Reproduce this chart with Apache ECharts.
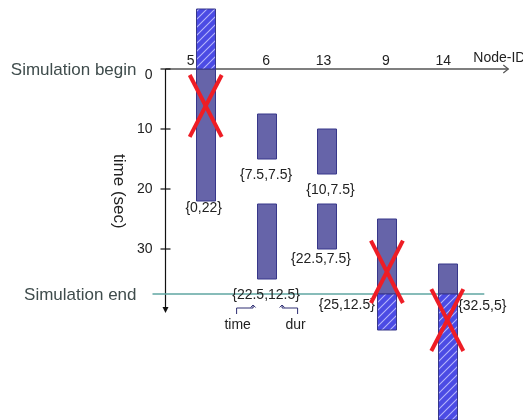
<!DOCTYPE html>
<html><head><meta charset="utf-8">
<script src="https://cdn.jsdelivr.net/npm/echarts@6/dist/echarts.min.js"></script>
<style>html,body{margin:0;padding:0;background:#fff}#c{width:523px;height:420px}</style>
</head><body><div id="c"></div>
<script>
// ---- data ----
const nodeIds = ['5', '6', '13', '9', '14'];
// tasks: node index, start time (sec), duration (sec)
const taskNode = [0, 1, 1, 2, 2, 3, 4];
const taskStart = [0, 7.5, 22.5, 10, 22.5, 25, 32.5];
const taskDur = [22, 7.5, 12.5, 7.5, 7.5, 12.5, 5];
// parts lying outside the simulated window (hatched)
const overNode = [0, 3, 4];
const overFrom = [-10, 37.5, 37.5];
const overTo = [0, 43.5, 58.5];
// crossed-out nodes (red X): node index, time span of the cross
const crossNode = [0, 3, 4];
const crossFrom = [1, 28.6, 36.7];
const crossTo = [11.3, 39, 47];
const simBegin = 0;
const simEnd = 37.5;
const timeTicks = [0, 10, 20, 30];
const annotatedTask = 2;

// ---- layout / style (not data) ----
const FONT = '"Liberation Sans", Arial, Helvetica, sans-serif';
const BAR_W = 19;
const labelOffsets = [[-2, 7], [0, 16], [0, 16], [4, 16], [-5.5, 10.5], [-40, 11.5], [35, 12.5]];
const nodeLabelDx = [-15, 0, -3, -1, -4];
const SOLID_FILL = '#6664a9', BAR_STROKE = '#37378a';

function makeHatch() {
  const c = document.createElement('canvas');
  c.width = 8; c.height = 8;
  const g = c.getContext('2d');
  g.fillStyle = '#4b4be4'; g.fillRect(0, 0, 8, 8);
  g.strokeStyle = 'rgba(200,200,255,0.85)'; g.lineWidth = 1.1;
  g.beginPath();
  g.moveTo(0, 8); g.lineTo(8, 0);
  g.moveTo(-2, 2); g.lineTo(2, -2);
  g.moveTo(6, 10); g.lineTo(10, 6);
  g.stroke();
  return c;
}
const hatch = { image: makeHatch(), repeat: 'repeat' };

const chart = echarts.init(document.getElementById('c'), null, { renderer: 'canvas' });

function txt(text, x, y, size, color, align, vAlign, rotation) {
  const el = { type: 'text', x: x, y: y, style: { text: text, font: size + 'px ' + FONT, fill: color, align: align, verticalAlign: vAlign } };
  if (rotation) el.rotation = rotation;
  return el;
}

const option = {
  animation: false,
  grid: { left: 175.5, top: 9, width: 302, height: 411, containLabel: false, outerBoundsMode: 'none' },
  xAxis: {
    type: 'category', data: nodeIds, position: 'top', boundaryGap: true,
    axisLine: { show: false }, axisTick: { show: false }, splitLine: { show: false },
    axisLabel: { show: false }
  },
  yAxis: {
    type: 'value', inverse: true, min: -10, max: 58.5, interval: 10, offset: 10,
    axisLine: { show: false }, axisTick: { show: false }, splitLine: { show: false },
    axisLabel: {
      margin: 13, fontSize: 14, color: '#222', fontFamily: FONT, showMaxLabel: false,
      formatter: v => timeTicks.indexOf(v) >= 0 ? (v === 0 ? '{z|0}' : String(v)) : '',
      rich: { z: { padding: [12, 0, 0, 0], fontSize: 14, color: '#222', fontFamily: FONT } }
    }
  },
  series: [
    { // axes decorations & annotations
      type: 'custom', z: 1, silent: true, data: [[0]],
      renderItem: function (params, api) {
        const cs = params.coordSys;
        const ax = cs.x - 10;
        const y0 = api.coord([0, simBegin])[1];
        const yE = api.coord([0, simEnd])[1];
        const lastX = api.coord([nodeIds.length - 1, 0])[0];
        const tip = yE + 19;
        const ch = [];
        ch.push({ type: 'line', shape: { x1: ax, y1: y0, x2: lastX + 61, y2: y0 }, style: { stroke: '#555', lineWidth: 1.3 } });
        ch.push({ type: 'polyline', shape: { points: [[lastX + 56, y0 - 4], [lastX + 61, y0], [lastX + 56, y0 + 4]] }, style: { stroke: '#555', lineWidth: 1.2, fill: null } });
        nodeIds.forEach((id, i) => {
          const x = api.coord([i, 0])[0];
          ch.push(txt(id, x + nodeLabelDx[i], y0 - 8, 14, '#222', 'center', 'middle'));
        });
        ch.push({ type: 'line', shape: { x1: ax, y1: y0, x2: ax, y2: tip - 4 }, style: { stroke: '#111', lineWidth: 1.2 } });
        ch.push({ type: 'polygon', shape: { points: [[ax - 3, tip - 6], [ax + 3, tip - 6], [ax, tip]] }, style: { fill: '#111' } });
        timeTicks.forEach(t => {
          const y = api.coord([0, t])[1];
          ch.push({ type: 'line', shape: { x1: ax - 5, y1: y, x2: ax + 5, y2: y }, style: { stroke: '#111', lineWidth: 1.2 } });
        });
        ch.push({ type: 'line', shape: { x1: ax - 13, y1: yE, x2: lastX + 37, y2: yE }, style: { stroke: '#5fa6a2', lineWidth: 1.3 } });
        ch.push(txt('Simulation begin', ax - 29, y0 + 1, 17, '#3f4c4c', 'right', 'middle'));
        ch.push(txt('Simulation end', ax - 29, yE + 1, 17, '#3f4c4c', 'right', 'middle'));
        ch.push(txt('time (sec)', ax - 47, api.coord([0, 20.4])[1], 17, '#222', 'center', 'middle', -Math.PI / 2));
        ch.push(txt('Node-ID', lastX + 26, y0 - 11, 14, '#222', 'left', 'middle'));
        // time / dur explanation under one label
        const b = api.coord([taskNode[annotatedTask], taskStart[annotatedTask] + taskDur[annotatedTask]]);
        const lx = b[0] + labelOffsets[annotatedTask][0], ly = b[1] + labelOffsets[annotatedTask][1];
        const st = { stroke: '#2e2e72', lineWidth: 1, fill: null };
        ch.push({ type: 'polyline', shape: { points: [[lx - 29.5, ly + 19], [lx - 29.5, ly + 13], [lx - 13, ly + 13], [lx - 13, ly + 10]] }, style: st });
        ch.push({ type: 'polyline', shape: { points: [[lx - 15.5, ly + 12.5], [lx - 13, ly + 10], [lx - 10.5, ly + 12.5]] }, style: st });
        ch.push({ type: 'polyline', shape: { points: [[lx + 31.5, ly + 19], [lx + 31.5, ly + 13], [lx + 16, ly + 13], [lx + 16, ly + 10]] }, style: st });
        ch.push({ type: 'polyline', shape: { points: [[lx + 13.5, ly + 12.5], [lx + 16, ly + 10], [lx + 18.5, ly + 12.5]] }, style: st });
        ch.push(txt('time', lx - 28.5, ly + 30, 14, '#222', 'center', 'middle'));
        ch.push(txt('dur', lx + 29.5, ly + 30, 14, '#222', 'center', 'middle'));
        return { type: 'group', children: ch };
      }
    },
    { // tasks inside the simulated window
      type: 'custom', z: 2, silent: true,
      data: taskNode.map((n, i) => [n, taskStart[i], taskStart[i] + taskDur[i], i]),
      renderItem: function (params, api) {
        const i = api.value(3);
        const p0 = api.coord([api.value(0), api.value(1)]);
        const p1 = api.coord([api.value(0), api.value(2)]);
        const x = Math.round(p0[0] - BAR_W / 2) + 0.5;
        const off = labelOffsets[i];
        return {
          type: 'group', children: [
            { type: 'rect', shape: { x: x, y: p0[1], width: BAR_W, height: p1[1] - p0[1] }, style: { fill: SOLID_FILL, stroke: BAR_STROKE, lineWidth: 1 } },
            txt('{' + taskStart[i] + ',' + taskDur[i] + '}', p0[0] + off[0], p1[1] + off[1], 14, '#222', 'center', 'middle')
          ]
        };
      }
    },
    { // parts outside the simulated window
      type: 'custom', z: 2, silent: true,
      data: overNode.map((n, i) => [n, overFrom[i], overTo[i]]),
      renderItem: function (params, api) {
        const p0 = api.coord([api.value(0), api.value(1)]);
        const p1 = api.coord([api.value(0), api.value(2)]);
        const x = Math.round(p0[0] - BAR_W / 2) + 0.5;
        return { type: 'rect', shape: { x: x, y: p0[1], width: BAR_W, height: p1[1] - p0[1] }, style: { fill: hatch, stroke: BAR_STROKE, lineWidth: 1 } };
      }
    },
    { // red crosses
      type: 'custom', z: 3, silent: true,
      data: crossNode.map((n, i) => [n, crossFrom[i], crossTo[i]]),
      renderItem: function (params, api) {
        const p0 = api.coord([api.value(0), api.value(1)]);
        const p1 = api.coord([api.value(0), api.value(2)]);
        const h = 16;
        const st = { stroke: '#ee1d25', lineWidth: 4 };
        return {
          type: 'group', children: [
            { type: 'line', shape: { x1: p0[0] - h, y1: p0[1], x2: p0[0] + h, y2: p1[1] }, style: st },
            { type: 'line', shape: { x1: p0[0] + h, y1: p0[1], x2: p0[0] - h, y2: p1[1] }, style: st }
          ]
        };
      }
    }
  ]
};
chart.setOption(option);
</script>
</body></html>
